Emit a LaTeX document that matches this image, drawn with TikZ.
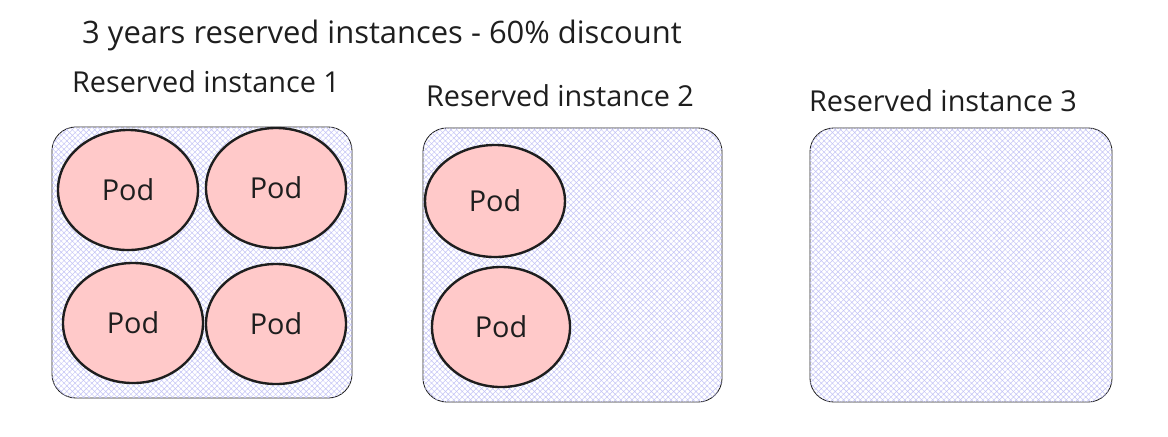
\documentclass[tikz,border=0pt]{standalone}
\usepackage{fontspec}
\setmainfont{Open Sans}
\usetikzlibrary{shapes.geometric,patterns.meta}
\definecolor{podfill}{HTML}{FFC9C9}
\definecolor{inkline}{HTML}{1E1E1E}
\definecolor{hatchline}{HTML}{C4C4F6}

\begin{document}
\begin{tikzpicture}[
                x=0.025cm, y=-0.025cm,
                every node/.style={font=\fontsize{20.5}{24}\selectfont, text=inkline},
                instance/.style={draw=inkline, line width=0.6pt, rounded corners=0.6cm,
                    fill=white, postaction={pattern={Hatch[angle=45,distance=2.8pt,line width=0.35pt]},
                    pattern color=hatchline}},
                pod/.style={ellipse, draw=inkline, line width=1.7pt, fill=podfill,
                    minimum width=3.5cm, minimum height=3cm, inner sep=0pt}
            ]
                \useasboundingbox (0,0) rectangle (1168,436);
                \node[font=\fontsize{22}{26}\selectfont] (title) at (382,35) {3 years reserved instances - 60\% discount};

                % the three instances
                \node[instance, minimum width=7.5cm, minimum height=6.775cm] (ri1) at (202,262.5) {};
                \node[instance, minimum width=7.475cm, minimum height=6.85cm] (ri2) at (572.5,265) {};
                \node[instance, minimum width=7.55cm, minimum height=6.85cm] (ri3) at (961,265) {};

                \node (lab1) at (206,82)  {Reserved instance 1};
                \node (lab2) at (560,96)  {Reserved instance 2};
                \node (lab3) at (943,101) {Reserved instance 3};

                % pods
                \node[pod] (pod11) at (128,190) {Pod};
                \node[pod] (pod12) at (276,188) {Pod};
                \node[pod] (pod13) at (133,323) {Pod};
                \node[pod] (pod14) at (276,324) {Pod};
                \node[pod, minimum height=2.8cm] (pod21) at (495,201) {Pod};
                \node[pod, minimum width=3.45cm] (pod22) at (501,327) {Pod};
            \end{tikzpicture}
\end{document}
